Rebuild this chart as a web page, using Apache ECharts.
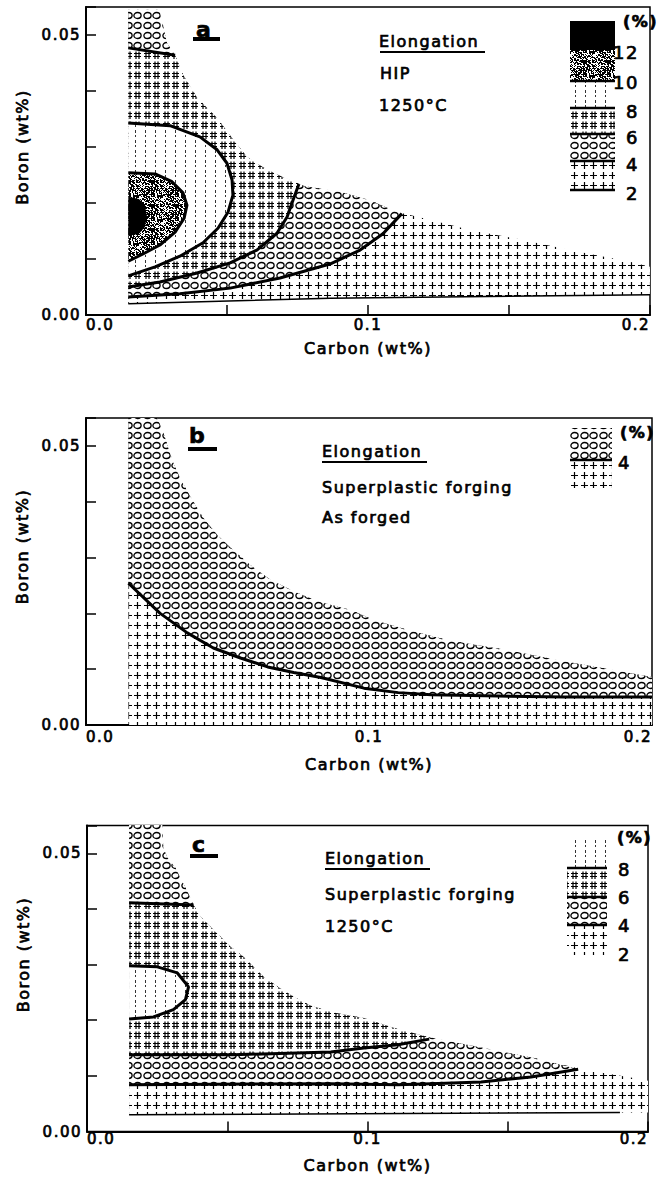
<!DOCTYPE html>
<html>
<head>
<meta charset="utf-8">
<script src="https://cdn.jsdelivr.net/npm/echarts/dist/echarts.min.js"></script>
<style>
html, body { margin: 0; padding: 0; background: #fff; }
#chart { width: 659px; height: 1177px; }
#chart text { letter-spacing: 1.5px !important; }
</style>
</head>
<body>
<div id="chart"></div>
<script>
// carbon / boron in wt%
var xTicks = [0, 0.1, 0.2];
var yTicks = [0, 0.05];

// --- a: HIP 1250°C
var outerA = [[0.015,0.0546],[0.026,0.0546],[0.0273,0.0518],[0.0287,0.0486],[0.0316,0.0464],[0.0344,0.0429],[0.0394,0.0388],[0.0465,0.0352],[0.0518,0.0316],[0.0571,0.0282],[0.0628,0.0264],[0.0699,0.0246],[0.0777,0.0230],[0.0901,0.0220],[0.1007,0.0205],[0.1103,0.0184],[0.1220,0.0170],[0.1362,0.0152],[0.1550,0.0134],[0.1716,0.0116],[0.1929,0.0095],[0.2,0.0086]];
var c2A = [[0.015,0.0020],[0.0865,0.0030],[0.2,0.0036]];
var c4A = [[0.015,0.0032],[0.0333,0.0038],[0.0511,0.0048],[0.0688,0.0066],[0.0865,0.0091],[0.0972,0.0116],[0.1053,0.0145],[0.112,0.0181]];
var c6upA = [[0.015,0.0477],[0.0316,0.0464]];
var c6loA = [[0.0755,0.0234],[0.0734,0.0205],[0.0713,0.0175],[0.0677,0.0146],[0.0606,0.0116],[0.0511,0.0093],[0.0394,0.0075],[0.0262,0.0059],[0.015,0.0050]];
var c8A = [[0.015,0.0343],[0.0298,0.0338],[0.0404,0.0318],[0.0465,0.0295],[0.0500,0.0271],[0.0518,0.0241],[0.0521,0.0214],[0.0504,0.0184],[0.0468,0.0155],[0.0415,0.0129],[0.0333,0.0105],[0.0245,0.0086],[0.015,0.0070]];
var c10A = [[0.015,0.0254],[0.0245,0.0252],[0.0305,0.0238],[0.0344,0.0218],[0.0358,0.0196],[0.0348,0.0173],[0.0316,0.0148],[0.0262,0.0125],[0.0202,0.0109],[0.015,0.0096]];
var c12A = [[0.015,0.0211],[0.0188,0.0207],[0.0209,0.0195],[0.0216,0.0177],[0.0209,0.0157],[0.0188,0.0145],[0.015,0.0141]];
var levelsA = ['12', '10', '8', '6', '4', '2'];

// --- b: superplastic forging, as forged
var outerB = [[0.015,0.055],[0.0252,0.055],[0.0273,0.0525],[0.0291,0.0496],[0.0312,0.0465],[0.0340,0.0435],[0.0376,0.0403],[0.0415,0.0371],[0.0465,0.0340],[0.0521,0.0313],[0.0582,0.0286],[0.0652,0.0260],[0.0741,0.0238],[0.0830,0.0220],[0.0936,0.0206],[0.1018,0.0188],[0.1138,0.0170],[0.1280,0.0152],[0.1493,0.0134],[0.1670,0.0116],[0.1869,0.0098],[0.2,0.0086]];
var baseB = [[0.2,0],[0.015,0]];
var c4B = [[0.015,0.0254],[0.0262,0.0200],[0.0358,0.0165],[0.0450,0.0138],[0.0546,0.0120],[0.0642,0.0104],[0.0734,0.0094],[0.0830,0.0085],[0.0982,0.0066],[0.1103,0.0058],[0.1220,0.0054],[0.1457,0.0052],[0.1691,0.0050],[0.2,0.0050]];
var levelsB = ['4'];

// --- c: superplastic forging 1250°C
var outerC = [[0.015,0.0551],[0.0269,0.0551],[0.0272,0.0510],[0.0287,0.0492],[0.0315,0.0474],[0.0333,0.0456],[0.0351,0.0438],[0.0369,0.0420],[0.0380,0.0407],[0.0405,0.0386],[0.0440,0.0368],[0.0476,0.0350],[0.0512,0.0332],[0.0558,0.0314],[0.0594,0.0296],[0.0630,0.0278],[0.0680,0.0260],[0.0737,0.0242],[0.0798,0.0226],[0.0887,0.0213],[0.0987,0.0204],[0.1083,0.0188],[0.1215,0.0170],[0.1415,0.0150],[0.1594,0.0132],[0.1772,0.0111],[0.1987,0.0093],[0.2,0.0091]];
var c2C = [[0.015,0.0030],[0.19,0.0034]];
var c4C = [[0.015,0.0084],[0.0869,0.0086],[0.1108,0.0084],[0.1226,0.0086],[0.1405,0.0089],[0.1583,0.0098],[0.1751,0.0112]];
var c6upC = [[0.015,0.0411],[0.0380,0.0407]];
var c6loC = [[0.015,0.0138],[0.0523,0.0138],[0.0869,0.0143],[0.0987,0.0150],[0.1108,0.0156],[0.122,0.0166]];
var c8C = [[0.015,0.0298],[0.0251,0.0296],[0.0322,0.0285],[0.0362,0.0260],[0.0351,0.0237],[0.0308,0.0219],[0.0237,0.0206],[0.015,0.0202]];
var levelsC = ['8', '6', '4', '2'];

var FONT = '"DejaVu Sans", sans-serif';
var INK = 0.7; // printed text is heavier than the plain face

// hatch fills, drawn on small canvases
function pattern(kind) {
  var w = 19, h = 10;
  if (kind === 'dash') { w = 10; h = 10; }
  if (kind === 'stipple') { w = 24; h = 24; }
  var cv = document.createElement('canvas');
  cv.width = w; cv.height = h;
  var g = cv.getContext('2d');
  g.fillStyle = '#fff';
  g.fillRect(0, 0, w, h);
  g.strokeStyle = '#000';
  g.fillStyle = '#000';
  g.lineWidth = 1.2;
  var cols = [4.5, 14.5];
  g.beginPath();
  if (kind === 'plus') {
    cols.forEach(function (cx) {
      g.moveTo(cx - 3.5, 5.5); g.lineTo(cx + 3.5, 5.5);
      g.moveTo(cx, 2); g.lineTo(cx, 9);
    });
    g.stroke();
  } else if (kind === 'circle') {
    g.lineWidth = 1.3;
    cols.forEach(function (cx) {
      g.moveTo(cx + 3.6, 5.5);
      g.ellipse(cx, 5.5, 3.6, 3.0, 0, 0, Math.PI * 2);
    });
    g.stroke();
  } else if (kind === 'hash') {
    cols.forEach(function (cx) {
      g.moveTo(cx - 1.5, 1.5); g.lineTo(cx - 1.5, 9);
      g.moveTo(cx + 1.5, 1.5); g.lineTo(cx + 1.5, 9);
      g.moveTo(cx - 3.5, 3.5); g.lineTo(cx + 3.5, 3.5);
      g.moveTo(cx - 3.5, 6.5); g.lineTo(cx + 3.5, 6.5);
    });
    g.stroke();
  } else if (kind === 'dash') {
    g.lineWidth = 1;
    g.strokeStyle = '#333';
    g.moveTo(5.5, 0); g.lineTo(5.5, 3);
    g.moveTo(5.5, 5); g.lineTo(5.5, 7);
    g.stroke();
  } else if (kind === 'stipple') {
    for (var i = 0; i < w; i++) {
      for (var j = 0; j < h; j++) {
        var v = Math.sin(i * 12.9898 + j * 78.233) * 43758.5453;
        v = v - Math.floor(v);
        if (v < 0.58) g.fillRect(i, j, 1, 1);
      }
    }
  }
  return { image: cv, repeat: 'repeat', imageWidth: w, imageHeight: h };
}

var PLUS = pattern('plus'), CIRC = pattern('circle'), HASH = pattern('hash'),
    DASH = pattern('dash'), STIP = pattern('stipple'), BLACK = '#000';

function between(path, lo, hi) {
  return path.filter(function (p) { return p[0] > lo && p[0] < hi; });
}
function rev(path) { return path.slice().reverse(); }

var regionsA = [
  { pts: outerA.concat(rev(c2A)), fill: PLUS },
  { pts: between(outerA, 0, 0.112).concat(rev(c4A)), fill: CIRC },
  { pts: c6upA.concat(between(outerA, 0.0316, 0.0755), c6loA), fill: HASH },
  { pts: c8A, fill: DASH },
  { pts: c10A, fill: STIP },
  { pts: c12A, fill: BLACK }
];
var regionsB = [
  { pts: outerB.concat(baseB), fill: PLUS },
  { pts: outerB.concat(rev(c4B)), fill: CIRC }
];
var regionsC = [
  { pts: outerC.concat([[0.2, 0.0034]], rev(c2C)), fill: PLUS },
  { pts: between(outerC, 0, 0.1751).concat(rev(c4C)), fill: CIRC },
  { pts: c6upC.concat(between(outerC, 0.038, 0.122), rev(c6loC)), fill: HASH },
  { pts: c8C, fill: DASH }
];

function regionSeries(gi, regions) {
  return {
    type: 'custom', xAxisIndex: gi, yAxisIndex: gi, silent: true, animation: false, z: 1,
    data: regions.map(function (r) { return r.pts[0]; }),
    renderItem: function (params, api) {
      var r = regions[params.dataIndex];
      return {
        type: 'polygon',
        shape: { points: r.pts.map(function (p) { return api.coord(p); }) },
        style: { fill: r.fill, stroke: null }
      };
    }
  };
}
function contour(gi, data, width) {
  return {
    type: 'line', xAxisIndex: gi, yAxisIndex: gi, data: data, symbol: 'none',
    silent: true, animation: false, z: 3,
    lineStyle: { color: '#000', width: width || 3 }
  };
}

var grids = [
  { left: 86, right: 9, top: 7, bottom: 862 },
  { left: 86, right: 7, top: 418, bottom: 452 },
  { left: 87, right: 11, top: 825.5, bottom: 45.5 }
];
var xNameGap = [25, 31, 26], xLabelMargin = [2, 4, 0], yNameShift = [28, 50, 48];

function near(v, list) {
  return list.some(function (t) { return Math.abs(v - t) < 1e-9; });
}

var xAxes = grids.map(function (g, i) {
  return {
    gridIndex: i, type: 'value', min: 0, max: 0.2, interval: 0.05,
    axisLine: { show: true, onZero: false, lineStyle: { color: '#000', width: 2 } },
    axisTick: { show: i !== 1, inside: true, length: 10, lineStyle: { color: '#000', width: 1.5 } },
    splitLine: { show: false },
    axisLabel: {
      color: '#000', fontFamily: FONT, fontSize: 15, margin: xLabelMargin[i],
      textBorderColor: '#000', textBorderWidth: INK,
      showMinLabel: true, showMaxLabel: true, alignMinLabel: 'left', alignMaxLabel: 'right',
      formatter: function (v) { return near(v, xTicks) ? v.toFixed(1) : ''; }
    },
    name: 'Carbon (wt%)', nameLocation: 'middle', nameGap: xNameGap[i],
    nameTextStyle: { color: '#000', fontFamily: FONT, fontSize: 16, textBorderColor: '#000', textBorderWidth: INK }
  };
});
var yAxes = grids.map(function (g, i) {
  return {
    gridIndex: i, type: 'value', min: 0, max: 0.055, interval: 0.01,
    axisLine: { show: true, onZero: false, lineStyle: { color: '#000', width: 2 } },
    axisTick: { inside: true, length: 10, lineStyle: { color: '#000', width: 1.5 } },
    splitLine: { show: false },
    axisLabel: {
      color: '#000', fontFamily: FONT, fontSize: 15, margin: 5,
      textBorderColor: '#000', textBorderWidth: INK,
      formatter: function (v) { return near(v, yTicks) ? v.toFixed(2) : ''; }
    },
    name: 'Boron (wt%)', nameLocation: 'middle', nameGap: 56,
    nameTextStyle: { color: '#000', fontFamily: FONT, fontSize: 16, textBorderColor: '#000', textBorderWidth: INK,
                     padding: [0, 0, 0, yNameShift[i]] }
  };
});

function txt(s, x, y, size, align, weight) {
  return {
    type: 'text', x: x, y: y, z: 12,
    style: { text: s, fill: '#000', stroke: '#000', lineWidth: INK, fontSize: size, fontFamily: FONT,
             fontWeight: weight || 'normal', align: align || 'left', verticalAlign: 'middle' }
  };
}
function bar(x, y, w, h) {
  return { type: 'rect', z: 12, shape: { x: x, y: y, width: w, height: h }, style: { fill: '#000' } };
}
function key(x, w, bands, lines, labels, lx, pct) {
  var els = [];
  bands.forEach(function (b) {
    els.push({ type: 'rect', z: 10, shape: { x: x, y: b[0], width: w, height: b[1] - b[0] }, style: { fill: b[2] } });
  });
  lines.forEach(function (y) {
    els.push({ type: 'line', z: 11, shape: { x1: x, y1: y, x2: x + w, y2: y }, style: { stroke: '#000', lineWidth: 2.5 } });
  });
  labels.forEach(function (l) { els.push(txt(l[0], lx, l[1], 18, 'right')); });
  els.push(txt('(%)', pct[0], pct[1], 16, 'left', 'bold'));
  return els;
}

var graphics = [].concat(
  // a
  [txt('a', 196, 29, 22, 'left', 'bold'), bar(193, 37, 27, 4),
   txt('Elongation', 379, 41, 16), bar(380, 51, 105, 2),
   txt('HIP', 380, 73, 16), txt('1250°C', 379, 105, 16)],
  key(570, 45,
      [[21, 50, BLACK], [50, 81, STIP], [81, 108, DASH], [108, 134, HASH], [134, 161, CIRC], [161, 190, PLUS]],
      [81, 108, 134, 161, 190],
      [[levelsA[0], 52], [levelsA[1], 82], [levelsA[2], 111], [levelsA[3], 137], [levelsA[4], 164], [levelsA[5], 193]],
      639, [623, 21]),
  // b
  [txt('b', 189, 435, 22, 'left', 'bold'), bar(188, 447, 29, 4),
   txt('Elongation', 322, 451, 16), bar(322, 461, 105, 2),
   txt('Superplastic forging', 322, 487, 16), txt('As forged', 322, 517, 16)],
  key(570, 42, [[428, 460, CIRC], [460, 488, PLUS]], [460], [[levelsB[0], 462]], 631, [620, 432]),
  // c
  [txt('c', 192, 844, 22, 'left', 'bold'), bar(190, 854, 28, 4),
   txt('Elongation', 325, 858, 16), bar(325, 868, 105, 2),
   txt('Superplastic forging', 325, 894, 16), txt('1250°C', 325, 926, 16)],
  key(567, 40,
      [[840, 868, DASH], [868, 897, HASH], [897, 925, CIRC], [925, 955, PLUS]],
      [868, 897, 925],
      [[levelsC[0], 869], [levelsC[1], 897], [levelsC[2], 925], [levelsC[3], 954]],
      631, [617, 837])
);

var option = {
  backgroundColor: '#fff',
  animation: false,
  grid: grids.map(function (g) {
    return { left: g.left, right: g.right, top: g.top, bottom: g.bottom, show: true,
             borderColor: '#000', borderWidth: 1.5, backgroundColor: 'transparent' };
  }),
  xAxis: xAxes,
  yAxis: yAxes,
  series: [
    regionSeries(0, regionsA),
    contour(0, c2A, 1.5), contour(0, c4A), contour(0, c6loA), contour(0, c6upA),
    contour(0, c8A), contour(0, c10A),
    regionSeries(1, regionsB),
    contour(1, c4B),
    regionSeries(2, regionsC),
    contour(2, c2C, 1.5), contour(2, c4C), contour(2, c6loC), contour(2, c6upC), contour(2, c8C)
  ],
  graphic: graphics
};

var chart = echarts.init(document.getElementById('chart'), null, { renderer: 'svg' });
chart.setOption(option);
</script>
</body>
</html>
